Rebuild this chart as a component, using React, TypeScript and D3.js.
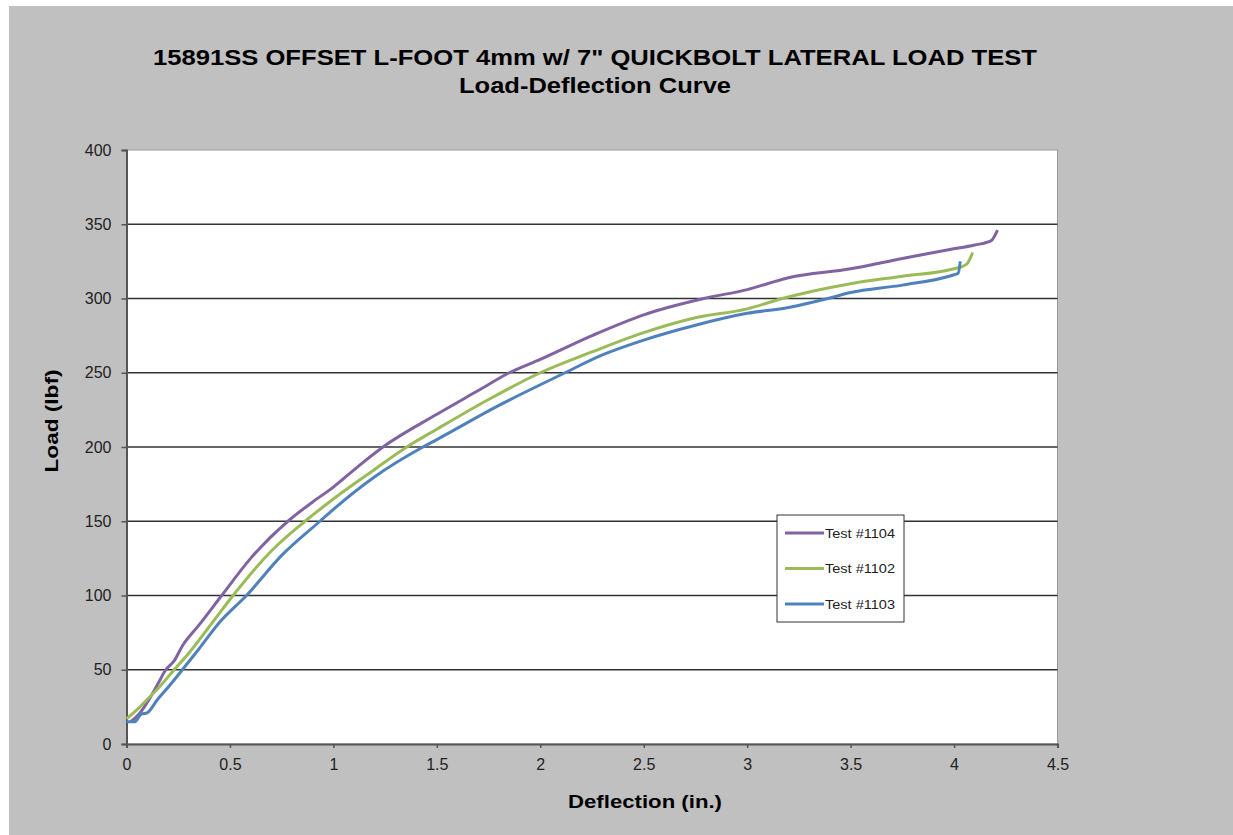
import { useEffect, useRef } from 'react';
import * as d3 from 'd3';

// Test #1104 (purple)
const test1104X = [0.02, 0.06, 0.1, 0.15, 0.19, 0.23, 0.27, 0.35, 0.46, 0.6, 0.78, 0.9, 1.0, 1.12, 1.24, 1.5, 1.7, 1.85, 2.0, 2.25, 2.5, 2.79, 3.0, 3.2, 3.5, 3.75, 3.98, 4.1, 4.18, 4.21];
const test1104Y = [15, 20, 28, 40, 50, 56, 66, 80, 100, 125, 150, 163, 173, 187, 200, 222, 238, 250, 259, 275, 289, 300, 306, 314, 320, 327, 333, 336, 339, 346];

// Test #1102 (green)
const test1102X = [0, 0.05, 0.1, 0.15, 0.23, 0.3, 0.4, 0.515, 0.7, 0.863, 1.0, 1.18, 1.355, 1.5, 1.75, 2.0, 2.25, 2.5, 2.75, 3.0, 3.17, 3.5, 3.75, 4.0, 4.06, 4.09];
const test1102Y = [17, 23, 30, 37, 50, 61, 79, 100, 130, 150, 165, 183, 200, 212, 232, 250, 264, 277, 287, 293, 300, 310, 315, 320, 323, 331];

// Test #1103 (blue)
const test1103X = [0, 0.04, 0.07, 0.1, 0.15, 0.2, 0.27, 0.35, 0.45, 0.58, 0.75, 0.935, 1.0, 1.2, 1.433, 1.5, 1.8, 2.12, 2.3, 2.5, 2.75, 3.0, 3.2, 3.39, 3.5, 3.75, 4.0, 4.02, 4.03];
const test1103Y = [15, 15, 20, 21, 30, 38, 50, 64, 82, 100, 127, 150, 158, 180, 200, 205, 228, 250, 262, 272, 282, 290, 294, 300, 304, 309, 316, 317, 325];

const xTicks = [0, 0.5, 1, 1.5, 2, 2.5, 3, 3.5, 4, 4.5];
const yTicks = [0, 50, 100, 150, 200, 250, 300, 350, 400];

const series = [
  { name: 'Test #1104', color: '#8064a2', xs: test1104X, ys: test1104Y },
  { name: 'Test #1102', color: '#9bbb59', xs: test1102X, ys: test1102Y },
  { name: 'Test #1103', color: '#4f81bd', xs: test1103X, ys: test1103Y },
];

const W = 1233;
const H = 835;
const font = 'Liberation Sans, Arial, sans-serif';

export default function App() {
  const ref = useRef<SVGSVGElement | null>(null);

  useEffect(() => {
    const svg = d3.select(ref.current);
    svg.selectAll('*').remove();

    // page backdrop: white edge then grey chart area
    svg.append('rect').attr('width', W).attr('height', H).attr('fill', '#fff');
    svg.append('rect').attr('x', 9).attr('y', 6).attr('width', W - 9).attr('height', H - 6).attr('fill', '#c0c0c0');

    const x = d3.scaleLinear().domain([0, 4.5]).range([126.5, 1057.5]);
    const y = d3.scaleLinear().domain([0, 400]).range([744, 150]);

    svg.append('rect')
      .attr('x', x(0)).attr('y', y(400))
      .attr('width', x(4.5) - x(0)).attr('height', y(0) - y(400))
      .attr('fill', '#fff').attr('stroke', '#999').attr('stroke-width', 1);

    // horizontal gridlines
    svg.append('g').selectAll('line')
      .data(yTicks.filter((t) => t > 0 && t < 400))
      .join('line')
      .attr('x1', x(0)).attr('x2', x(4.5))
      .attr('y1', (d) => y(d)).attr('y2', (d) => y(d))
      .attr('stroke', '#333').attr('stroke-width', 1.5);

    // axes
    const yAxis = d3.axisLeft(y).tickValues(yTicks).tickSize(5).tickPadding(10).tickFormat(d3.format('d'));
    svg.append('g').attr('transform', `translate(${x(0)},0)`).call(yAxis)
      .call((g) => g.select('.domain').attr('stroke', '#555').attr('stroke-width', 2))
      .call((g) => g.selectAll('.tick line').attr('stroke', '#555').attr('stroke-width', 1.5))
      .call((g) => g.selectAll('.tick text').attr('font-family', font).attr('font-size', 16).attr('fill', '#222'));

    const xAxis = d3.axisBottom(x).tickValues(xTicks).tickSize(4).tickPadding(11).tickFormat((d) => String(d));
    svg.append('g').attr('transform', `translate(0,${y(0)})`).call(xAxis)
      .call((g) => g.select('.domain').attr('stroke', '#555').attr('stroke-width', 2))
      .call((g) => g.selectAll('.tick line').attr('stroke', '#555').attr('stroke-width', 1.5))
      .call((g) => g.selectAll('.tick text').attr('font-family', font).attr('font-size', 16).attr('fill', '#222'));

    // curves
    const line = d3.line<[number, number]>().x((d) => x(d[0])).y((d) => y(d[1])).curve(d3.curveMonotoneX);
    for (const s of series) {
      svg.append('path')
        .datum(s.xs.map((v, i) => [v, s.ys[i]] as [number, number]))
        .attr('d', line)
        .attr('fill', 'none')
        .attr('stroke', s.color)
        .attr('stroke-width', 3)
        .attr('stroke-linejoin', 'round');
    }

    // legend
    const lg = svg.append('g').attr('transform', 'translate(777,515)');
    lg.append('rect').attr('width', 127).attr('height', 107).attr('fill', '#fff').attr('stroke', '#333').attr('stroke-width', 1);
    series.forEach((s, i) => {
      const yy = 18 + i * 35.5;
      lg.append('line').attr('x1', 8).attr('x2', 47).attr('y1', yy).attr('y2', yy)
        .attr('stroke', s.color).attr('stroke-width', 3);
      lg.append('text').attr('x', 48).attr('y', yy + 4.5).text(s.name)
        .attr('font-family', font).attr('font-size', 12.5).attr('fill', '#222')
        .attr('textLength', 70).attr('lengthAdjust', 'spacingAndGlyphs');
    });

    // titles
    svg.append('text').attr('x', 595).attr('y', 65).attr('text-anchor', 'middle')
      .attr('font-family', font).attr('font-weight', 'bold').attr('font-size', 22)
      .attr('textLength', 884).attr('lengthAdjust', 'spacingAndGlyphs')
      .text('15891SS OFFSET L-FOOT 4mm w/ 7" QUICKBOLT LATERAL LOAD TEST');
    svg.append('text').attr('x', 595).attr('y', 93).attr('text-anchor', 'middle')
      .attr('font-family', font).attr('font-weight', 'bold').attr('font-size', 22)
      .attr('textLength', 272).attr('lengthAdjust', 'spacingAndGlyphs')
      .text('Load-Deflection Curve');
    svg.append('text').attr('x', 645).attr('y', 808).attr('text-anchor', 'middle')
      .attr('font-family', font).attr('font-weight', 'bold').attr('font-size', 19)
      .attr('textLength', 154).attr('lengthAdjust', 'spacingAndGlyphs')
      .text('Deflection (in.)');
    svg.append('text').attr('transform', 'translate(58,421) rotate(-90)').attr('text-anchor', 'middle')
      .attr('font-family', font).attr('font-weight', 'bold').attr('font-size', 19)
      .attr('textLength', 103).attr('lengthAdjust', 'spacingAndGlyphs')
      .text('Load (lbf)');
  }, []);

  return (
    <svg ref={ref} width={W} height={H} style={{ display: 'block', position: 'absolute', left: 0, top: 0 }} />
  );
}
